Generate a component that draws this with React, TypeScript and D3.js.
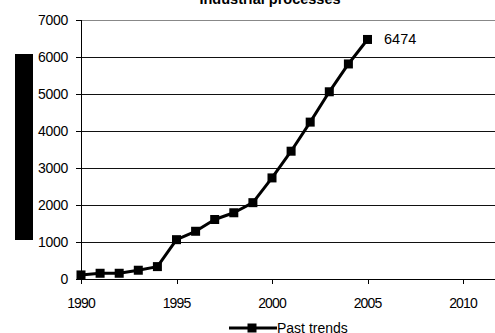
import React from "react";
import * as d3 from "d3";

const years = [1990, 1991, 1992, 1993, 1994, 1995, 1996, 1997, 1998, 1999, 2000, 2001, 2002, 2003, 2004, 2005];
const values = [110, 155, 155, 237, 335, 1063, 1290, 1608, 1790, 2063, 2732, 3454, 4240, 5060, 5812, 6474];
const yTicks = [0, 1000, 2000, 3000, 4000, 5000, 6000, 7000];
const xTicks = [1990, 1995, 2000, 2005, 2010];
const title = "Industrial processes";
const seriesName = "Past trends";

const W = 495;
const H = 333;
const left = 81;
const top = 20;
const bottom = 279;
const font = "'Liberation Sans', Arial, sans-serif";

export default function App() {
  const x = d3.scaleLinear().domain([1990, 2012]).range([left, left + 22 * 19.1]);
  const y = d3.scaleLinear().domain([0, 7000]).range([bottom, top]);
  const line = d3
    .line<number>()
    .x((_, i) => x(years[i]))
    .y((d) => y(d));
  const last = values.length - 1;
  const ms = 9;
  const px = (v: number) => Math.round(v) + 0.5;

  return (
    <svg
      width={W}
      height={H}
      style={{ position: "absolute", left: 0, top: 0, background: "#fff" }}
      fontFamily={font}
    >
      <text x={270} y={4} textAnchor="middle" fontSize={14.5} fontWeight="bold" fill="#000">
        {title}
      </text>
      {/* axis title block */}
      <rect x={15} y={54} width={18} height={186} fill="#000" />
      {/* gridlines, ticks and value labels */}
      {yTicks.map((t) => (
        <g key={t}>
          {t > 0 && (
            <line
              x1={left}
              x2={W}
              y1={px(y(t))}
              y2={px(y(t))}
              stroke={t === 7000 ? "#888" : "#111"}
              strokeWidth={1}
            />
          )}
          <line x1={left - 5} x2={left} y1={px(y(t))} y2={px(y(t))} stroke="#000" />
          <text x={68} y={y(t) + 5} textAnchor="end" fontSize={14} fill="#000" letterSpacing={-0.3}>
            {t}
          </text>
        </g>
      ))}
      {/* axes */}
      <line x1={left + 0.5} x2={left + 0.5} y1={top} y2={bottom + 5} stroke="#000" />
      <line x1={left} x2={W} y1={bottom + 0.5} y2={bottom + 0.5} stroke="#000" />
      {xTicks.map((t) => (
        <g key={t}>
          <line x1={px(x(t))} x2={px(x(t))} y1={bottom} y2={bottom + 5} stroke="#000" />
          <text x={x(t)} y={308} textAnchor="middle" fontSize={14} fill="#000" letterSpacing={-0.9}>
            {t}
          </text>
        </g>
      ))}
      {/* series */}
      <path d={line(values) || ""} fill="none" stroke="#000" strokeWidth={3} strokeLinejoin="round" />
      {values.map((v, i) => (
        <rect key={years[i]} x={x(years[i]) - ms / 2} y={y(v) - ms / 2} width={ms} height={ms} fill="#000" />
      ))}
      <text x={384} y={44} fontSize={14.5} fill="#000">
        {values[last]}
      </text>
      {/* legend */}
      <line x1={229} x2={277} y1={328} y2={328} stroke="#000" strokeWidth={3} />
      <rect x={252 - ms / 2} y={328 - ms / 2} width={ms} height={ms} fill="#000" />
      <text x={277} y={333} fontSize={14} fill="#000">
        {seriesName}
      </text>
    </svg>
  );
}
